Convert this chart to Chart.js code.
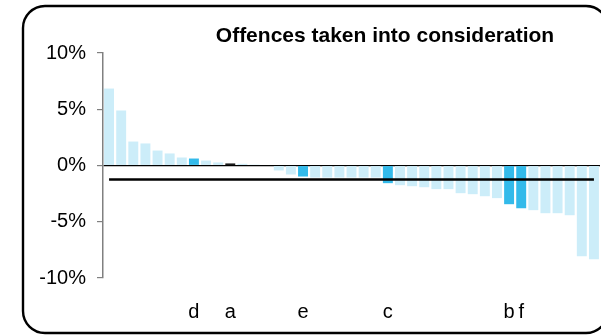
<!DOCTYPE html>
<html>
<head>
<meta charset="utf-8">
<script src="https://cdn.jsdelivr.net/npm/chart.js@4/dist/chart.umd.min.js"></script>
<style>
  html, body { margin: 0; padding: 0; background: #fff; }
  canvas { display: block; }
</style>
</head>
<body>
<canvas id="c" width="601" height="336"></canvas>
<script>
// ---- data ----
const chartTitle = 'Offences taken into consideration';
const categories = ['', '', '', '', '', '', '', 'd', '', '', 'a', '', '', '', '', '', 'e', '', '', '', '', '', '', 'c', '', '', '', '', '', '', '', '', '', 'b', 'f', '', '', '', '', '', ''];
const values = [6.84, 4.89, 2.13, 1.96, 1.33, 1.07, 0.71, 0.62, 0.44, 0.27,
                0.18, 0.15, 0.08, 0.0, -0.44, -0.80, -0.98, -1.07, -1.07, -1.07,
                -1.07, -1.07, -1.07, -1.57, -1.75, -1.84, -1.93, -2.10, -2.10, -2.46,
                -2.55, -2.73, -2.90, -3.44, -3.80, -3.97, -4.24, -4.24, -4.42, -8.06,
                -8.33];
const averageValue = -1.24;
const yTicks = [-10, -5, 0, 5, 10];

// ---- styles ----
const lightBlue = '#CCEDF9';
const darkBlue = '#33BAEA';
const barColors = categories.map(l => l === '' ? lightBlue : (l === 'a' ? '#000000' : darkBlue));

const framePlugin = {
  id: 'frame',
  afterDraw(chart) {
    const ctx = chart.ctx;
    ctx.save();
    ctx.lineWidth = 2.4;
    ctx.strokeStyle = '#000';
    ctx.beginPath();
    ctx.roundRect(23, 6, 585, 327, 22);
    ctx.stroke();
    // title
    ctx.fillStyle = '#000';
    ctx.font = 'bold 21px "Liberation Sans", Arial, sans-serif';
    ctx.textAlign = 'center';
    ctx.textBaseline = 'alphabetic';
    ctx.fillText(chartTitle, 385, 42);
    ctx.restore();
  }
};

new Chart(document.getElementById('c'), {
  data: {
    labels: categories,
    datasets: [
      {
        type: 'line',
        data: categories.map(() => averageValue),
        borderColor: '#000',
        borderWidth: 2.5,
        pointRadius: 0,
        fill: false,
        order: 0
      },
      {
        type: 'bar',
        data: values,
        backgroundColor: barColors,
        borderWidth: 0,
        categoryPercentage: 1.0,
        barPercentage: 0.82,
        order: 1
      }
    ]
  },
  options: {
    responsive: false,
    animation: false,
    layout: { padding: { top: 53, right: 1, left: 0, bottom: 0 } },
    plugins: { legend: { display: false }, tooltip: { enabled: false }, title: { display: false } },
    scales: {
      x: {
        grid: { display: true, drawOnChartArea: false, drawTicks: true, tickLength: 22, tickColor: 'rgba(0,0,0,0)', color: 'rgba(0,0,0,0)' },
        border: { display: false },
        ticks: {
          autoSkip: false, maxRotation: 0, minRotation: 0,
          padding: 0,
          color: '#000',
          font: { family: '"Liberation Sans", Arial, sans-serif', size: 20 }
        },
        afterFit(scale) { scale.height = 58; }
      },
      y: {
        min: -10, max: 10,
        afterBuildTicks(scale) { scale.ticks = yTicks.map(v => ({ value: v })); },
        grid: {
          color: ctx => (ctx.tick && ctx.tick.value === 0) ? '#000' : 'rgba(0,0,0,0)',
          lineWidth: 1.2,
          tickColor: '#808080',
          tickLength: 6,
          drawTicks: true
        },
        border: { display: true, color: '#808080', width: 1.5 },
        ticks: {
          padding: 11,
          color: '#000',
          font: { family: '"Liberation Sans", Arial, sans-serif', size: 20 },
          callback: v => v + '%'
        },
        afterFit(scale) { scale.width = 103; }
      }
    }
  },
  plugins: [framePlugin]
});
</script>
</body>
</html>
